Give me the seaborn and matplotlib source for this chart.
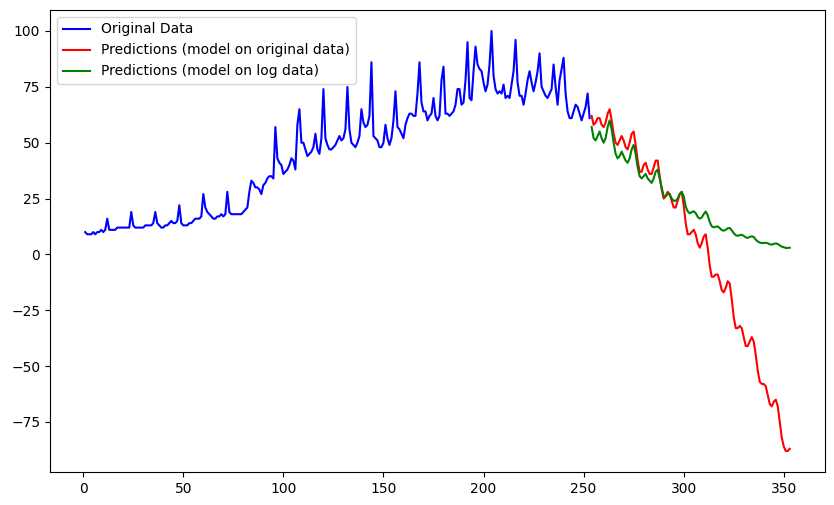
import matplotlib
matplotlib.use("Agg")
import matplotlib.pyplot as plt
import seaborn as sns
import numpy as np
import pandas as pd

# ---- data ----
original_values = [
    10, 9, 9, 9, 10, 9, 10, 10, 11, 10, 11, 16,
    11, 11, 11, 11, 12, 12, 12, 12, 12, 12, 12, 19,
    13, 12, 12, 12, 12, 12, 13, 13, 13, 13, 14, 19,
    14, 13, 12, 12, 13, 13, 14, 15, 14, 14, 15, 22,
    14, 13, 13, 13, 14, 14, 15, 16, 16, 16, 17, 27,
    21, 19, 18, 17, 16, 16, 17, 17, 18, 17, 18, 28,
    19, 18, 18, 18, 18, 18, 18, 19, 20, 21, 28, 33,
    32, 30, 30, 29, 27, 31, 32, 34, 35, 35, 34, 57,
    43, 41, 40, 36, 37, 38, 40, 43, 42, 38, 58, 65,
    50, 50, 47, 44, 45, 46, 48, 54, 47, 45, 52, 74,
    52, 49, 47, 47, 48, 49, 51, 53, 51, 52, 56, 75,
    56, 50, 49, 48, 50, 53, 65, 59, 57, 58, 62, 86,
    53, 52, 51, 48, 48, 50, 58, 52, 49, 52, 60, 73,
    57, 56, 54, 52, 58, 61, 63, 63, 62, 62, 72, 86,
    68, 64, 64, 60, 62, 63, 70, 62, 60, 62, 78, 84,
    63, 63, 62, 63, 64, 67, 74, 74, 67, 68, 78, 95,
    70, 69, 82, 93, 85, 83, 82, 77, 73, 76, 85, 100,
    80, 74, 72, 73, 72, 76, 70, 71, 70, 76, 82, 96,
    77, 71, 71, 67, 72, 78, 82, 77, 73, 77, 82, 90,
    75, 73, 71, 70, 72, 74, 85, 75, 67, 78, 83, 88,
    72, 64, 61, 61, 64, 67, 66, 63, 60, 63, 66, 72,
    61,
]
original_x = list(range(1, len(original_values) + 1))

pred_original = [
    62, 58, 59, 61, 61, 58, 57, 59, 63, 65,
    60, 54, 50, 49, 51, 53, 51, 48, 47, 50,
    54, 55, 49, 42, 37, 37, 40, 41, 38, 36,
    36, 39, 42, 42, 35, 29, 25, 26, 28, 27,
    24, 21, 21, 24, 27, 28, 22, 14, 9, 9,
    10, 11, 9, 5, 3, 5, 8, 9, 3, -5,
    -10, -10, -9, -9, -12, -16, -17, -15, -12, -13,
    -20, -28, -33, -33, -32, -33, -37, -41, -41, -39,
    -37, -39, -45, -52, -57, -58, -58, -59, -63, -67,
    -68, -66, -65, -68, -75, -82, -86, -88, -88, -87,
]

pred_log = [
    57, 52, 51, 53, 55, 52, 50, 52, 57, 60,
    56, 50, 45, 43, 44, 46, 44, 42, 41, 43,
    47, 49, 45, 39, 35, 34, 35, 36, 34, 33,
    32, 34, 37, 38, 34, 30, 26, 26, 27, 27,
    25, 24, 24, 25, 27, 28, 26, 21.5, 19.3, 18.4,
    18.9, 19.3, 18.5, 16.8, 16.0, 16.5, 18.0, 19.2, 17.5, 14.5,
    12.6, 12.1, 12.4, 12.5, 11.8, 10.9, 10.6, 11.0, 11.7, 11.8,
    10.8, 9.5, 8.6, 8.3, 8.6, 8.8, 8.3, 7.6, 7.4, 7.8,
    8.1, 7.8, 6.6, 5.8, 5.3, 5.1, 5.1, 5.2, 5.0, 4.5,
    4.4, 4.7, 4.9, 4.7, 4.0, 3.5, 3.2, 2.9, 2.9, 3.0,
]
pred_x = list(range(original_x[-1] + 1, original_x[-1] + 1 + len(pred_original)))

labels = ["Original Data",
          "Predictions (model on original data)",
          "Predictions (model on log data)"]
colors = ["blue", "red", "green"]

df_orig = pd.DataFrame({"x": original_x, "y": original_values})
df_p1 = pd.DataFrame({"x": pred_x, "y": pred_original})
df_p2 = pd.DataFrame({"x": pred_x, "y": pred_log})

fig = plt.figure(figsize=(8.34, 5.05), dpi=100)
ax = fig.add_axes([50 / 834, 33 / 505, 775 / 834, 462 / 505])

sns.lineplot(data=df_orig, x="x", y="y", color=colors[0], label=labels[0], ax=ax, linewidth=1.5)
sns.lineplot(data=df_p1, x="x", y="y", color=colors[1], label=labels[1], ax=ax, linewidth=1.5)
sns.lineplot(data=df_p2, x="x", y="y", color=colors[2], label=labels[2], ax=ax, linewidth=1.5)

ax.set_xlabel("")
ax.set_ylabel("")
ax.set_xticks([0, 50, 100, 150, 200, 250, 300, 350])
ax.set_yticks([-75, -50, -25, 0, 25, 50, 75, 100])
ax.legend(loc="upper left")

fig.savefig("out.png", dpi=100)
